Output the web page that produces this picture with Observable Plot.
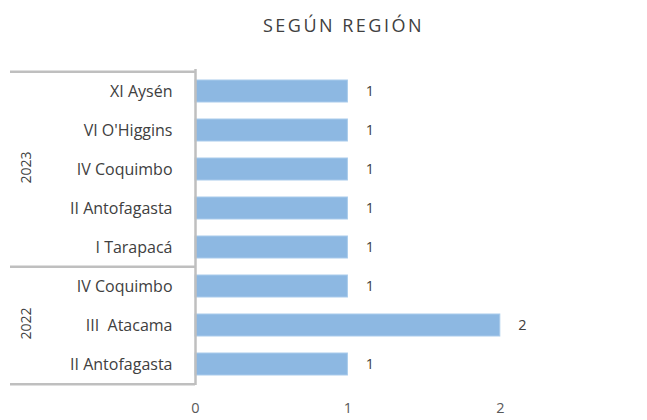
<!DOCTYPE html>
<html>
<head>
<meta charset="utf-8">
<script src="https://cdn.jsdelivr.net/npm/d3@7"></script>
<script src="https://cdn.jsdelivr.net/npm/@observablehq/plot@0.6"></script>
<style>
  html, body { margin: 0; padding: 0; background: #fff; }
  #wrap { width: 647px; height: 420px; position: relative; font-family: "Open Sans", sans-serif; }
  #title { position: absolute; left: 0; top: 13px; width: 647px; padding-left: 40px; box-sizing: border-box;
           text-align: center; font-size: 18px; letter-spacing: 2.5px; color: #404040; font-weight: 400; line-height: normal; }
  #chart { position: absolute; left: 0; top: 48px; }
  #chart svg text { white-space: pre; }
</style>
</head>
<body>
<div id="wrap">
  <div id="title">SEGÚN REGIÓN</div>
  <div id="chart"></div>
</div>
<script>
const years = ["2023","2023","2023","2023","2023","2022","2022","2022"];
const regions = ["XI Aysén","VI O'Higgins","IV Coquimbo","II Antofagasta","I Tarapacá","IV Coquimbo","III  Atacama","II Antofagasta"];
const counts = [1,1,1,1,1,1,2,1];
const xTicks = [0,1,2];

const data = regions.map((r, i) => ({key: years[i] + "|" + r, year: years[i], region: r, value: counts[i]}));
const keys = data.map(d => d.key);

const groups = Array.from(d3.group(data, d => d.year), ([year, rows]) => ({year, rows}));
const groupMid = groups.map(g => ({year: g.year, key: g.rows[Math.floor(g.rows.length / 2)].key}));
const groupStarts = groups.map(g => ({key: g.rows[0].key}));
const lastKey = [{key: keys[keys.length - 1]}];

const width = 647, height = 372, marginTop = 21, marginBottom = 35, marginLeft = 195, marginRight = 71;
const step = (height - marginTop - marginBottom) / keys.length;
const grey = "#bfbfbf";
const font = "'Open Sans', sans-serif";

const chart = Plot.plot({
  width, height, marginTop, marginBottom, marginLeft, marginRight,
  style: {fontFamily: font, fontSize: "14.5px", color: "#404040", background: "white"},
  x: {domain: [0, 2.5], axis: null},
  y: {domain: keys, paddingInner: 0.44, paddingOuter: 0.22, axis: null},
  marks: [
    Plot.axisX({ticks: xTicks, tickSize: 0, tickPadding: 17, tickFormat: d3.format("d"), fontSize: 14.5, color: "#595959", label: null}),
    Plot.axisY({tickSize: 0, tickPadding: 23, tickFormat: k => k.split("|")[1], fontSize: 16, letterSpacing: 0.6, label: null}),
    Plot.barX(data, {x: "value", y: "key", fill: "#8db8e2", stroke: "#a9cbec", strokeWidth: 1}),
    Plot.text(data, {x: "value", y: "key", text: d => String(d.value), dx: 22, fontSize: 14.5, fill: "#404040"}),
    Plot.ruleX([0], {stroke: grey, strokeWidth: 2.5}),
    Plot.ruleY(groupStarts, {y: "key", x1: 0, x2: 0, dy: -step / 2, insetLeft: -185, stroke: grey, strokeWidth: 2.5}),
    Plot.ruleY(lastKey, {y: "key", x1: 0, x2: 0, dy: step / 2, insetLeft: -185, stroke: grey, strokeWidth: 2.5}),
    Plot.text(groupMid, {y: "key", text: "year", frameAnchor: "left", dx: -168.5, dy: -2, rotate: -90, textAnchor: "middle", lineAnchor: "middle", fontSize: 14, fill: "#404040"})
  ]
});
document.getElementById("chart").appendChild(chart);
</script>
</body>
</html>
